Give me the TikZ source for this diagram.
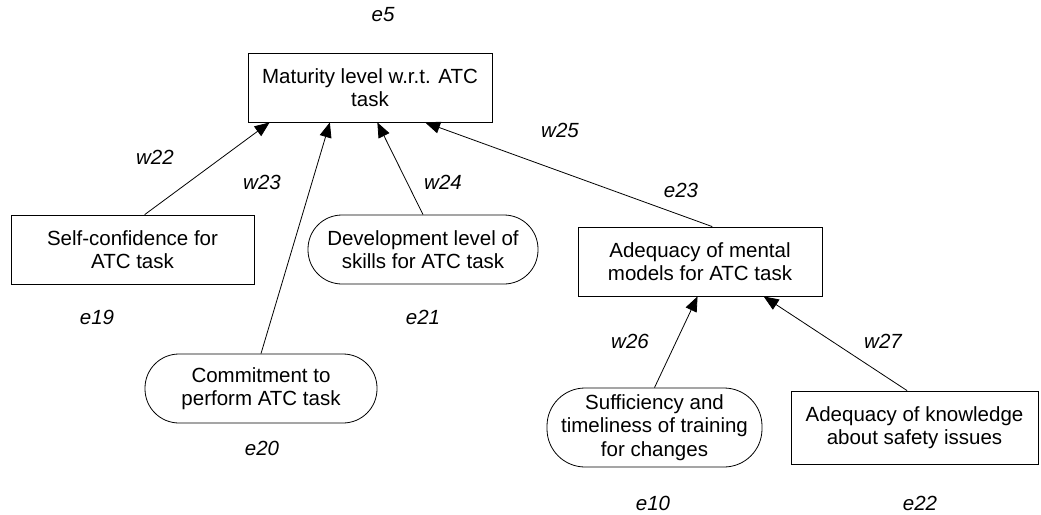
\documentclass[tikz,border=0pt]{standalone}
\usepackage{fontspec}
\setmainfont{Liberation Sans}
\usetikzlibrary{arrows.meta,calc}
\begin{document}
\begin{tikzpicture}[x=1pt,y=-1pt,
  every node/.style={font=\fontsize{20.5}{23.5}\selectfont},
  factor/.style={draw, line width=0.8pt, inner sep=0pt, align=center},
  sqbox/.style={factor},
  oval/.style={factor, rounded corners=#1},
  lbl/.style={font=\fontsize{20.5}{23.5}\selectfont\itshape, inner sep=0pt},
  link/.style={line width=0.8pt, -{Triangle[length=15pt,width=12pt]}}]
\useasboundingbox (0,0) rectangle (1041,514);

% factor nodes
\node[sqbox, minimum width=244pt, minimum height=69pt] (ml) at (370,87.5)
  {Maturity level w.r.t. ATC\\task};
\node[sqbox, minimum width=243pt, minimum height=69pt] (sc) at (132.5,249.5)
  {Self-confidence for\\ATC task};
\node[oval=34pt, minimum width=230pt, minimum height=69pt] (dv) at (423,249.5)
  {Development level of\\skills for ATC task};
\node[sqbox, minimum width=244pt, minimum height=69pt] (am) at (700,261.5)
  {Adequacy of mental\\models for ATC task};
\node[oval=34pt, minimum width=232pt, minimum height=69pt] (cm) at (261,388.5)
  {Commitment to\\perform ATC task};
\node[oval=38pt, minimum width=215pt, minimum height=79pt] (sf) at (654.5,427.5)
  {Sufficiency and\\timeliness of training\\for changes};
\node[sqbox, minimum width=247pt, minimum height=73pt] (kn) at (914.5,427.5)
  {Adequacy of knowledge\\about safety issues};

% state labels
\node[lbl] (e5) at (383,15) {e5};
\node[lbl] (e19) at (97,317) {e19};
\node[lbl] (e21) at (423,317) {e21};
\node[lbl] (e23) at (681,190) {e23};
\node[lbl] (e20) at (262,448) {e20};
\node[lbl] (e10) at (653,503) {e10};
\node[lbl] (e22) at (920,503) {e22};

% weight labels
\node[lbl] (w22) at (155,157) {w22};
\node[lbl] (w23) at (262,182) {w23};
\node[lbl] (w24) at (443,182) {w24};
\node[lbl] (w25) at (560,130) {w25};
\node[lbl] (w26) at (630,341) {w26};
\node[lbl] (w27) at (883,341) {w27};

% influence links
\draw[link] ($(sc.north west)!0.55!(sc.north east)$) -- ($(ml.south west)!0.09!(ml.south east)$);
\draw[link] (cm.north) -- ($(ml.south west)!0.336!(ml.south east)$);
\draw[link] (dv.north) -- ($(ml.south west)!0.53!(ml.south east)$);
\draw[link] ($(am.north west)!0.55!(am.north east)$) -- ($(ml.south west)!0.725!(ml.south east)$);
\draw[link] (sf.north) -- ($(am.south west)!0.49!(am.south east)$);
\draw[link] ($(kn.north west)!0.47!(kn.north east)$) -- ($(am.south west)!0.76!(am.south east)$);
\end{tikzpicture}
\end{document}
